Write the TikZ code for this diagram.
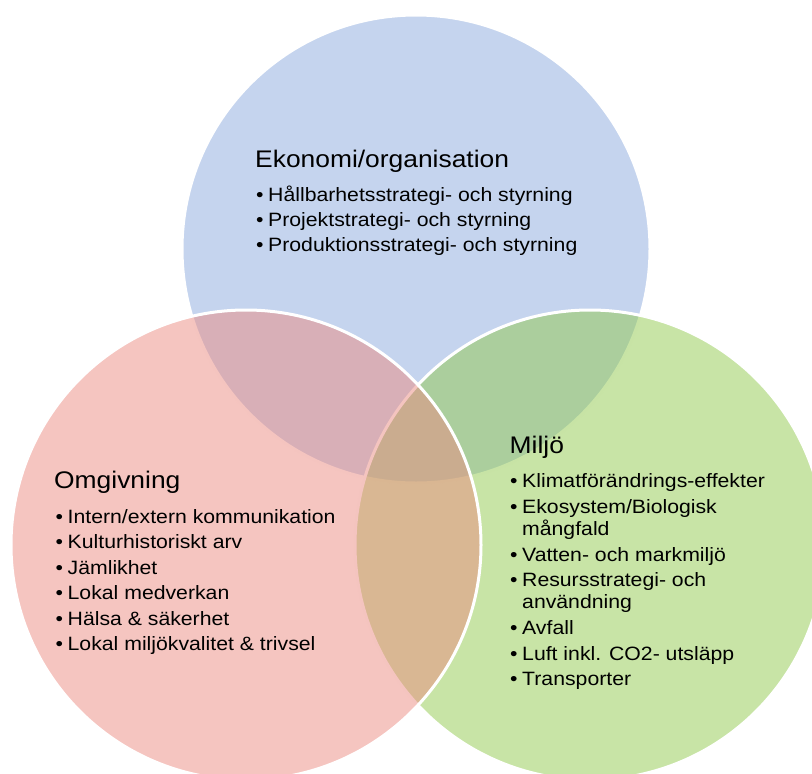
\documentclass[tikz,border=0pt]{standalone}
\usepackage{fontspec}
\setmainfont{Liberation Sans}[FakeStretch=1.1]
\newcommand\bul{\makebox[12pt][l]{\textbullet}}
\newcommand\hang{\hspace*{12pt}}
\definecolor{ekoblue}{RGB}{139,169,221}
\definecolor{omgred}{RGB}{235,139,129}
\definecolor{miljogreen}{RGB}{145,201,77}
\begin{document}
\begin{tikzpicture}[x=1pt,y=-1pt,
  ring/.style={draw=white,line width=3pt,fill opacity=0.5},
  head/.style={anchor=base west,inner sep=0pt,font=\fontsize{24}{28}\selectfont},
  item/.style={anchor=base west,inner sep=0pt,font=\fontsize{19.3}{22}\selectfont}]
\useasboundingbox (0,0) rectangle (812,774);
\clip (0,0) rectangle (812,774);

% the three overlapping circles
\path[ring,fill=ekoblue]    (416,249) circle[radius=234pt];
\path[ring,fill=miljogreen] (590,545) circle[radius=235pt];
\path[ring,fill=omgred]     (246,545) circle[radius=235pt];

% Ekonomi/organisation
\node[head] (ekh) at (255,167) {Ekonomi/organisation};
\node[item] (ek1) at (256,201) {\bul Hållbarhetsstrategi- och styrning};
\node[item] (ek2) at (256,226) {\bul Projektstrategi- och styrning};
\node[item] (ek3) at (256,251) {\bul Produktionsstrategi- och styrning};

% Omgivning
\node[head] (omh) at (54,488) {Omgivning};
\node[item] (om1) at (55.5,523)   {\bul Intern/extern kommunikation};
\node[item] (om2) at (55.5,548.5) {\bul Kulturhistoriskt arv};
\node[item] (om3) at (55.5,574)   {\bul Jämlikhet};
\node[item] (om4) at (55.5,599)   {\bul Lokal medverkan};
\node[item] (om5) at (55.5,625)   {\bul Hälsa \& säkerhet};
\node[item] (om6) at (55.5,650)   {\bul Lokal miljökvalitet \& trivsel};

% Miljö
\node[head] (mih) at (509.5,453.5) {Miljö};
\node[item] (mi1)  at (510,487.7) {\bul Klimatförändrings-effekter};
\node[item] (mi2)  at (510,513)   {\bul Ekosystem/Biologisk};
\node[item] (mi2b) at (510,535)   {\hang mångfald};
\node[item] (mi3)  at (510,561.5) {\bul Vatten- och markmiljö};
\node[item] (mi4)  at (510,586.7) {\bul Resursstrategi- och};
\node[item] (mi4b) at (510,608)   {\hang användning};
\node[item] (mi5)  at (510,634)   {\bul Avfall};
\node[item] (mi6)  at (510,660)   {\bul Luft inkl. CO2- utsläpp};
\node[item] (mi7)  at (510,685)   {\bul Transporter};
\end{tikzpicture}
\end{document}
